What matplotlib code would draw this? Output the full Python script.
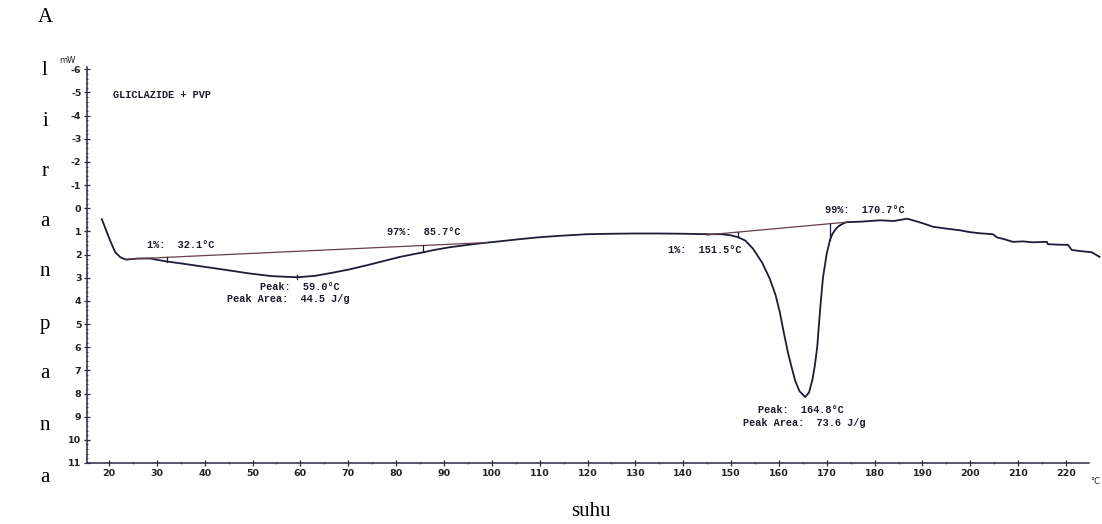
import numpy as np
import matplotlib
matplotlib.use("Agg")
import matplotlib.pyplot as plt
from matplotlib.ticker import MultipleLocator

plt.rcParams["axes.unicode_minus"] = False

# ---- data ----
temp = [18.5, 19.3, 20.2, 21.3, 22.4, 23.6, 26, 28.6, 32.1, 35, 39, 44, 49.5, 54, 59.3,
        63, 66.8, 70, 73.9, 77, 80.8, 85.7, 88, 91.3, 95, 98.2, 102, 106, 110, 115,
        120, 125, 130, 135, 140, 145, 148, 150, 151.5, 153, 154.6, 156.5, 158.1, 159.3,
        160.2, 161.0, 161.9, 162.7, 163.4, 164.3, 165.5, 166.3, 167, 167.5, 168, 168.6,
        169.2, 170, 170.7, 171.2, 171.7, 172.2, 172.8, 173.5, 174.2, 177, 181.1, 184,
        186.8, 188.5, 190.1, 192.2, 195, 197.8, 199.9, 202, 204.7, 205.6, 207, 208.9,
        211, 213, 216, 216.2, 218, 220.4, 221.2, 223, 225.4, 227]
heat = [0.47, 0.9, 1.38, 1.9, 2.12, 2.22, 2.17, 2.17, 2.3, 2.38, 2.5, 2.65, 2.82, 2.93, 2.98,
        2.92, 2.78, 2.65, 2.46, 2.3, 2.1, 1.9, 1.8, 1.68, 1.58, 1.5, 1.42, 1.33, 1.25, 1.18,
        1.12, 1.1, 1.09, 1.09, 1.1, 1.12, 1.12, 1.17, 1.25, 1.4, 1.75, 2.35, 3.05, 3.75,
        4.5, 5.35, 6.25, 6.9, 7.45, 7.9, 8.15, 7.95, 7.4, 6.8, 6.0, 4.4,
        3.0, 1.95, 1.35, 1.1, 0.95, 0.82, 0.73, 0.65, 0.6, 0.58, 0.52, 0.55,
        0.45, 0.55, 0.65, 0.8, 0.88, 0.95, 1.03, 1.08, 1.12, 1.26, 1.33, 1.45,
        1.43, 1.47, 1.45, 1.55, 1.57, 1.58, 1.8, 1.85, 1.9, 2.1]

base1_t = [23.6, 99.0]
base1_y = [2.2, 1.48]
base2_t = [145.0, 174.2]
base2_y = [1.15, 0.6]

onset_marks = [32.1, 85.7, 151.5, 170.7]
peak1 = 59.3

labels = [
    (27.9, 1.6, "1%:  32.1°C"),
    (78.1, 1.04, "97%:  85.7°C"),
    (51.6, 3.4, "Peak:  59.0°C"),
    (44.7, 3.93, "Peak Area:  44.5 J/g"),
    (136.8, 1.81, "1%:  151.5°C"),
    (169.6, 0.09, "99%:  170.7°C"),
    (155.6, 8.71, "Peak:  164.8°C"),
    (152.5, 9.28, "Peak Area:  73.6 J/g"),
]
title = "GLICLAZIDE + PVP"
ylabel_letters = "Aliranpana"
xlabel = "suhu"

# ---- figure ----
fig = plt.figure(figsize=(11.02, 5.24), dpi=100)
fig.patch.set_facecolor("white")
ax = fig.add_axes([87 / 1102, 61 / 524, 1002 / 1102, 396 / 524])

line_col = "#1c1c38"
ax.plot(temp, heat, color=line_col, lw=1.3, clip_on=False)
ax.plot(base1_t, base1_y, color="#6a3c4c", lw=0.9)
ax.plot(base2_t, base2_y, color="#6a3c4c", lw=0.9)

# partial-area marks between baseline and curve
for t in onset_marks:
    if t < 120:
        yb = np.interp(t, base1_t, base1_y)
    else:
        yb = np.interp(t, base2_t, base2_y)
    yc = np.interp(t, temp, heat)
    ax.plot([t, t], [yb, yc], color=line_col, lw=0.9)
ax.plot([peak1, peak1], [2.9, 3.06], color=line_col, lw=0.9)

mono = dict(family="Liberation Mono", fontweight="bold", fontsize=7.4, color="#1a1a2a")
for x, y, s in labels:
    ax.text(x, y, s, ha="left", va="center", **mono)
ax.text(20.8, -4.87, title, ha="left", va="center", **mono)

ax.set_xlim(15.4, 224.8)
ax.set_ylim(11, -6.1)
ax.spines["top"].set_visible(False)
ax.spines["right"].set_visible(False)
for s in ("left", "bottom"):
    ax.spines[s].set_color("#2a2a44")
    ax.spines[s].set_linewidth(1.1)

ax.xaxis.set_minor_locator(MultipleLocator(5))
ax.yaxis.set_minor_locator(MultipleLocator(0.2))
ax.set_xticks(np.arange(20, 221, 10))
ax.set_yticks(np.arange(-6, 12, 1))
ax.tick_params(axis="both", which="major", direction="inout", length=4, width=0.9,
               color="#2a2a44", labelsize=6.8, labelcolor="#222222", pad=2)
ax.tick_params(axis="both", which="minor", direction="inout", length=2, width=0.6,
               color="#2a2a44")
for lab in ax.get_xticklabels() + ax.get_yticklabels():
    lab.set_fontweight("bold")

fig.text(67 / 1102, 1 - 61 / 524, "mW", fontsize=6, ha="center", va="center", color="#222222")
fig.text(1095 / 1102, 1 - 482 / 524, "°C", fontsize=6, ha="center", va="center", color="#222222")

# vertical letters on the left and the x caption
ys = [18, 70, 121, 172, 222, 272, 324, 374, 425, 477]
for ch, yp in zip(ylabel_letters, ys):
    fig.text(45 / 1102, 1 - yp / 524, ch, family="Liberation Serif", fontsize=15,
             ha="center", va="center", color="black")
fig.text(591 / 1102, 1 - 511 / 524, xlabel, family="Liberation Serif", fontsize=15,
         ha="center", va="center", color="black")

fig.savefig("out.png", dpi=100)
